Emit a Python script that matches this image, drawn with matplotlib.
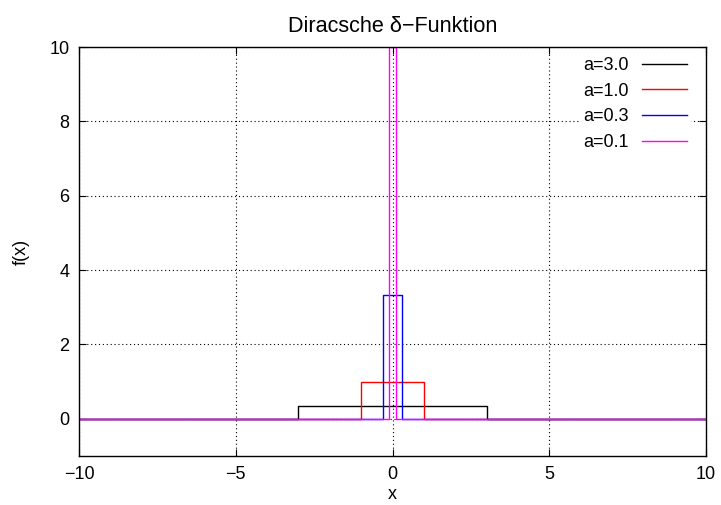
import numpy as np
import matplotlib.pyplot as plt

plt.rcParams['font.family'] = ['Liberation Sans', 'DejaVu Sans']
plt.rcParams['font.size'] = 13

# half widths and heights of the rectangle functions
a_values = [3.0, 1.0, 0.3, 0.1]
heights = [1 / 3.0, 1.0, 1 / 0.3, 10.0]
labels = ['a=3.0', 'a=1.0', 'a=0.3', 'a=0.1']
colors = ['#000000', '#ff0000', '#0000ff', '#ff00ff']

x_min, x_max = -10, 10

fig = plt.figure(figsize=(7.21, 5.05), dpi=100)
ax = fig.add_axes([0.1096, 0.097, 0.8696, 0.8099])

for a, h, lab, col in zip(a_values, heights, labels, colors):
    xs = [x_min, -a, -a, a, a, x_max]
    ys = [0, 0, h, h, 0, 0]
    ax.plot(xs, ys, color=col, lw=1.0, label=lab)

ax.set_xlim(x_min, x_max)
ax.set_ylim(-1, 10)
ax.set_xticks([-10, -5, 0, 5, 10])
ax.set_yticks([0, 2, 4, 6, 8, 10])
ax.grid(True, color='black', linestyle=(0, (1, 2.5)), linewidth=0.8)
ax.tick_params(direction='in', length=5, top=True, right=True, pad=7)
for s in ax.spines.values():
    s.set_linewidth(1.0)

ax.set_title('Diracsche δ\u2212Funktion', pad=11)
ax.set_xlabel('x', labelpad=2)
ax.set_ylabel('f(x)', labelpad=14)

leg = ax.legend(loc='upper right', bbox_to_anchor=(1 - 10 / 627, 1 - 1 / 409),
                frameon=True, fancybox=False, borderpad=0.2,
                markerfirst=False, handlelength=2.5, handletextpad=0.75,
                labelspacing=0.48, borderaxespad=0.3)
leg.get_frame().set_facecolor('white')
leg.get_frame().set_edgecolor('none')
leg.get_frame().set_alpha(1.0)

fig.savefig('out.png', dpi=100)
